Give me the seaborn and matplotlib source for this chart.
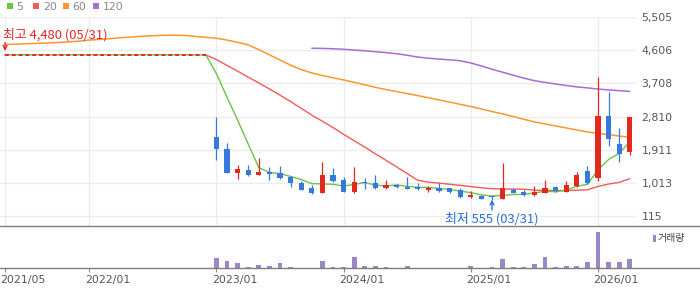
import numpy as np
import pandas as pd
import matplotlib
matplotlib.use("Agg")
import matplotlib.pyplot as plt
import seaborn as sns
from matplotlib.transforms import ScaledTranslation
from matplotlib.lines import Line2D
from matplotlib.patches import Rectangle

# ---------------- data ----------------
months = [str(p).replace("-", "/") for p in pd.period_range("2021-05", "2026-04", freq="M")]

# trading halt period (2021/05 - 2022/12): flat price
halt_price = [4480] * 20

# monthly candles 2023/01 - 2026/04
opens = [2247, 1922, 1288, 1361, 1234, 1315, 1272, 1180, 1017, 865,
         746, 1226, 1090, 773, 1036, 1009, 882, 955, 909, 892,
         828, 865, 865, 819, 638, 657, 638, 584, 819, 773,
         684, 746, 892, 773, 928, 1342, 1136, 2824, 2057, 1857]
highs = [2805, 2084, 1497, 1497, 1678, 1434, 1470, 1199, 1071, 955,
         1578, 1415, 1163, 1442, 1144, 1226, 1090, 974, 1172, 1009,
         928, 1001, 882, 865, 800, 676, 692, 1559, 882, 819,
         936, 1090, 909, 1063, 1315, 1470, 3889, 3482, 2491, 2789]
lows = [1632, 1272, 1125, 1207, 1234, 1090, 1109, 909, 810, 719,
        730, 1044, 773, 746, 855, 838, 855, 882, 855, 828,
        773, 773, 746, 611, 603, 584, 555, 562, 730, 665,
        665, 730, 773, 757, 909, 982, 1071, 2019, 1586, 1768]
closes = [1922, 1288, 1388, 1234, 1315, 1245, 1136, 1001, 819, 750,
          1226, 1063, 773, 1036, 1001, 882, 955, 909, 855, 855,
          882, 792, 773, 638, 657, 584, 622, 865, 746, 684,
          773, 865, 784, 955, 1226, 1017, 2832, 2193, 1786, 2789]
volume = [30, 21, 15, 3, 9, 6, 15, 3, 0, 0,
          21, 3, 3, 33, 6, 6, 3, 0, 6, 0,
          0, 0, 0, 0, 6, 0, 3, 27, 3, 3,
          12, 33, 3, 6, 6, 18, 107, 18, 18, 27]

ma5 = [4480] * 20 + [3968, 3330, 2712, 2062, 1429, 1294, 1264, 1186, 1103, 990,
                     986, 972, 926, 970, 1020, 951, 929, 957, 920, 891,
                     891, 859, 831, 788, 748, 689, 655, 673, 695, 700,
                     738, 787, 770, 812, 921, 969, 1363, 1645, 1811, 2123]
ma20 = [np.nan] * 19 + [4480] + [4352, 4193, 4038, 3876, 3717, 3556, 3388, 3214, 3031, 2845,
                                 2682, 2511, 2326, 2154, 1980, 1800, 1624, 1445, 1264, 1083,
                                 1031, 1006, 975, 945, 912, 879, 854, 847, 843, 840,
                                 817, 807, 808, 804, 815, 822, 916, 980, 1026, 1123]
ma60 = [4760, 4770, 4780, 4790, 4800, 4815, 4830, 4850, 4880, 4900,
        4920, 4945, 4965, 4985, 5000, 5010, 5015, 5005, 4980, 4955,
        4930, 4880, 4820, 4750, 4620, 4480, 4340, 4200, 4080, 3990,
        3920, 3860, 3800, 3735, 3670, 3600, 3540, 3485, 3430, 3375,
        3318, 3260, 3200, 3140, 3080, 3015, 2945, 2880, 2810, 2735,
        2665, 2610, 2555, 2500, 2445, 2390, 2355, 2320, 2280, 2245]
ma120 = [np.nan] * 29 + [4660, 4655, 4645, 4630, 4610, 4590, 4565, 4540, 4510, 4470,
                         4420, 4390, 4365, 4345, 4320, 4260, 4180, 4090, 4010, 3930,
                         3850, 3780, 3735, 3690, 3650, 3612, 3585, 3555, 3530, 3510, 3490]

ma_labels = ["5", "20", "60", "120"]
tick_months = ["2021/05", "2022/01", "2023/01", "2024/01", "2025/01", "2026/01"]
price_ticks = [115, 1013, 1911, 2810, 3708, 4606, 5505]
high_label = "최고 4,480 (05/31)"
low_label = "최저 555 (03/31)"
vol_label = "거래량"

# ---------------- style ----------------
sns.set_theme(style="white")
plt.rcParams["font.family"] = ["DejaVu Sans"]
KR = ["Noto Sans CJK KR", "DejaVu Sans"]

UP = "#e2281f"
DOWN = "#3579df"
C5, C20, C60, C120 = "#6cc24a", "#f25a5a", "#fb9630", "#a66cd5"
VOLC = "#9b86c6"

W, H = 700, 289
fig = plt.figure(figsize=(7, 2.89), dpi=100, facecolor="white")


def fy(py):
    return 1 - py / H


ax = fig.add_axes([0, fy(226), 636 / W, (226 - 16.5) / H])
axv = fig.add_axes([0, fy(268), 636 / W, 42 / H], sharex=ax)

xpos = np.arange(len(months))
cx = xpos[20:]

df = pd.DataFrame({"x": xpos, "ma5": ma5, "ma20": ma20, "ma60": ma60, "ma120": ma120})

# moving averages
sns.lineplot(data=df, x="x", y="ma60", ax=ax, color=C60, lw=1.1, zorder=2)
sns.lineplot(data=df, x="x", y="ma120", ax=ax, color=C120, lw=1.1, zorder=2)
sns.lineplot(data=df, x="x", y="ma20", ax=ax, color=C20, lw=1.0, zorder=2)
sns.lineplot(data=df, x="x", y="ma5", ax=ax, color=C5, lw=1.0, zorder=2)

# halt-period price (dashed)
ax.plot(xpos[:20], halt_price, color=UP, lw=1.4, dashes=(2.0, 1.5), zorder=3)

# candles
o = np.array(opens, float)
c = np.array(closes, float)
hi = np.array(highs, float)
lo = np.array(lows, float)
cols = np.where(c >= o, UP, DOWN)
ax.vlines(cx, lo, hi, colors=cols, lw=0.9, zorder=4)
bottom = np.minimum(o, c)
height = np.maximum(np.abs(c - o), 45)
ax.bar(cx, height, bottom=bottom, width=0.5, color=cols, linewidth=0, zorder=5)

# annotations
def xidx(px):
    return (px - 4.5) / 10.598

ax.text(xidx(2.5), 5018, high_label, color="#e8262a", fontsize=9.3, family=KR,
        ha="left", va="center")
ax.annotate("", xy=(0.05, 4585), xytext=(0.05, 4810),
            arrowprops=dict(arrowstyle="->", color="#e8262a", lw=1.0,
                            shrinkA=0, shrinkB=0, mutation_scale=7))
ax.text(xidx(445), 34, low_label, color="#2a6fd6", fontsize=9.3, family=KR,
        ha="left", va="center")
ax.annotate("", xy=(46, 560), xytext=(46, 280),
            arrowprops=dict(arrowstyle="->", color="#2a6fd6", lw=1.0,
                            shrinkA=0, shrinkB=0, mutation_scale=7))

# main axis formatting
ax.set_ylim(-156, 5519)
ax.set_yticks(price_ticks)
ax.set_yticklabels([f"{v:,}" for v in price_ticks])
ax.yaxis.tick_right()
ax.tick_params(axis="y", length=0, pad=4, labelsize=7.8, labelcolor="#555555")
ax.tick_params(axis="x", length=0, labelbottom=False)
ax.grid(True, color="#ececec", lw=1.0)
ax.set_axisbelow(True)
for s in ax.spines.values():
    s.set_visible(False)
ax.set_xlabel("")
ax.set_ylabel("")

# volume
sns.barplot(x=cx, y=volume, ax=axv, native_scale=True, color=VOLC, width=0.45,
            saturation=1, linewidth=0)
axv.set_ylim(0, 126)
axv.set_yticks([])
axv.set_xlabel("")
axv.set_ylabel("")
for s in axv.spines.values():
    s.set_visible(False)
axv.grid(False)

tick_pos = [months.index(m) for m in tick_months]
axv.set_xticks(tick_pos)
axv.set_xticklabels(tick_months)
axv.set_xlim(-0.425, 59.59)
axv.tick_params(axis="x", bottom=True, length=3, width=0.8, color="#888888",
                labelsize=7.9, labelcolor="#555555", pad=2)
for lab in axv.get_xticklabels():
    lab.set_horizontalalignment("left")
    lab.set_transform(lab.get_transform() + ScaledTranslation(-4.5 / 100, 0, fig.dpi_scale_trans))

# separator lines across the full width
for py in (226, 268):
    fig.add_artist(Line2D([0, 1], [fy(py), fy(py)], transform=fig.transFigure,
                          color="#7d7d7d", lw=1.0))

# top legend
leg = [(ma_labels[0], C5, 7.3, 16.5), (ma_labels[1], C20, 33.3, 43.0),
       (ma_labels[2], C60, 63.3, 72.5), (ma_labels[3], C120, 93.3, 103.0)]
for lbl, col, bx, tx in leg:
    fig.add_artist(Rectangle((bx / W, fy(9.3)), 6 / W, 6 / H, transform=fig.transFigure,
                             color=col, lw=0))
    fig.text(tx / W, fy(6.5), lbl, fontsize=7.8, color="#888888", ha="left", va="center")

# volume legend
fig.add_artist(Rectangle((653 / W, fy(242)), 3 / W, 7.5 / H, transform=fig.transFigure,
                         color=VOLC, lw=0))
fig.text(657.5 / W, fy(238.3), vol_label, fontsize=7.2, color="#444444", family=KR,
         ha="left", va="center")

fig.savefig("out.png", dpi=100, facecolor="white")
